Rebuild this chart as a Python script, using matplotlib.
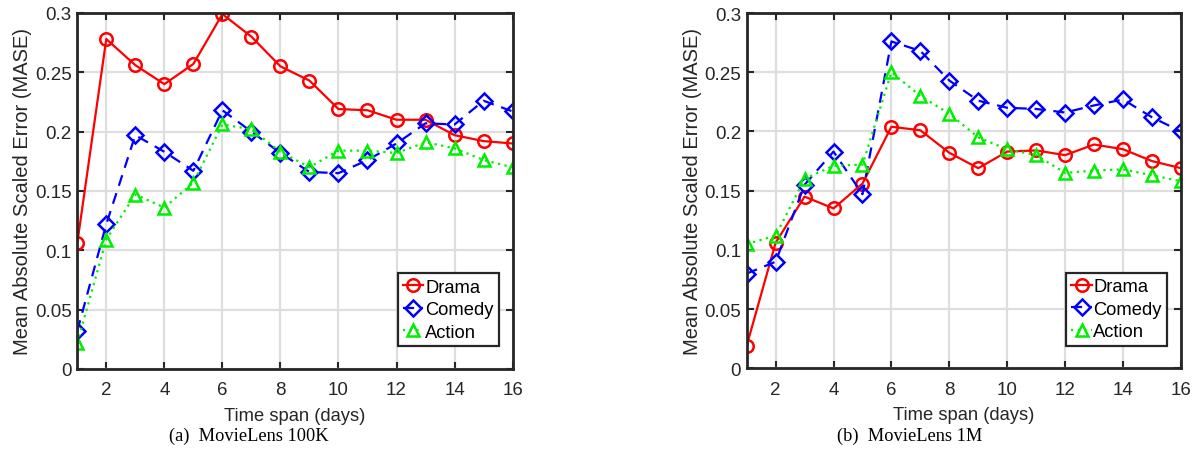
import matplotlib.pyplot as plt

plt.rcParams['font.family'] = ['Liberation Sans', 'DejaVu Sans']

days = list(range(1, 17))

# MovieLens 100K
drama_100k = [0.106, 0.278, 0.256, 0.240, 0.257, 0.299, 0.280, 0.255, 0.243,
              0.219, 0.218, 0.210, 0.210, 0.197, 0.192, 0.190]
comedy_100k = [0.032, 0.122, 0.197, 0.183, 0.167, 0.218, 0.200, 0.182, 0.166,
               0.165, 0.176, 0.190, 0.207, 0.206, 0.226, 0.217]
action_100k = [0.022, 0.109, 0.147, 0.136, 0.157, 0.206, 0.202, 0.183, 0.170,
               0.184, 0.184, 0.182, 0.191, 0.186, 0.176, 0.170]

# MovieLens 1M
drama_1m = [0.019, 0.106, 0.145, 0.135, 0.156, 0.204, 0.201, 0.182, 0.169,
            0.183, 0.184, 0.180, 0.189, 0.185, 0.175, 0.169]
comedy_1m = [0.080, 0.090, 0.155, 0.183, 0.147, 0.276, 0.268, 0.243, 0.226,
             0.220, 0.219, 0.216, 0.222, 0.227, 0.212, 0.200]
action_1m = [0.105, 0.112, 0.160, 0.171, 0.172, 0.250, 0.230, 0.215, 0.195,
             0.185, 0.180, 0.165, 0.167, 0.168, 0.163, 0.158]

genres = ["Drama", "Comedy", "Action"]
captions = ["(a)  MovieLens 100K", "(b)  MovieLens 1M"]
xticks = [2, 4, 6, 8, 10, 12, 14, 16]
yticks = [0, 0.05, 0.1, 0.15, 0.2, 0.25, 0.3]
ytick_labels = ["0", "0.05", "0.1", "0.15", "0.2", "0.25", "0.3"]

styles = [
    dict(color="red", ls="-", marker="o"),
    dict(color="blue", ls=(0, (5, 3.5)), marker="D", ms_scale=0.85),
    dict(color="#00ee00", ls=(0, (1, 2)), marker="^"),
]

fig = plt.figure(figsize=(11.96, 4.6), dpi=100)
ax_rects = [[0.0646, 0.1957, 0.364, 0.774], [0.6243, 0.1971, 0.3631, 0.7724]]
caption_x = [249 / 1196, 910 / 1196]

for k, series in enumerate([(drama_100k, comedy_100k, action_100k),
                            (drama_1m, comedy_1m, action_1m)]):
    ax = fig.add_axes(ax_rects[k])
    for vals, name, st in zip(series, genres, styles):
        ms = 9 * st.get("ms_scale", 1.0)
        ax.plot(days, vals, color=st["color"], linestyle=st["ls"],
                marker=st["marker"], markersize=ms, markerfacecolor="none",
                markeredgewidth=1.8, linewidth=1.6, label=name)

    ax.set_xlim(1, 16)
    ax.set_ylim(0, 0.3)
    ax.set_xticks(xticks)
    ax.set_yticks(yticks)
    ax.set_yticklabels(ytick_labels)
    ax.grid(True, color="#dedede", linewidth=1.6)
    ax.set_axisbelow(True)
    ax.tick_params(direction="in", top=True, right=True, length=5, width=1.5,
                   labelsize=13.5, labelcolor="#262626", color="#262626")
    ax.tick_params(axis="x", pad=9)
    ax.tick_params(axis="y", pad=4)
    for sp in ax.spines.values():
        sp.set_linewidth(2)
        sp.set_color("#262626")
    ax.set_xlabel("Time span (days)", fontsize=13.2, color="#262626", labelpad=6)
    ax.set_ylabel("Mean Absolute Scaled Error (MASE)", fontsize=14.5,
                  color="#262626", labelpad=2)

    leg = ax.legend(loc="lower right", bbox_to_anchor=(0.969, 0.064),
                    fontsize=13.2, frameon=True, fancybox=False,
                    handlelength=1.1, handletextpad=0.1, borderpad=0.3,
                    labelspacing=0.3, borderaxespad=0.0)
    leg.get_frame().set_edgecolor("#262626")
    leg.get_frame().set_linewidth(1.6)
    leg.get_frame().set_alpha(1)

    fig.text(caption_x[k], 0.052, captions[k], ha="center", va="center",
             fontsize=13.2, family="Liberation Serif")

fig.savefig("out.png", dpi=100)
